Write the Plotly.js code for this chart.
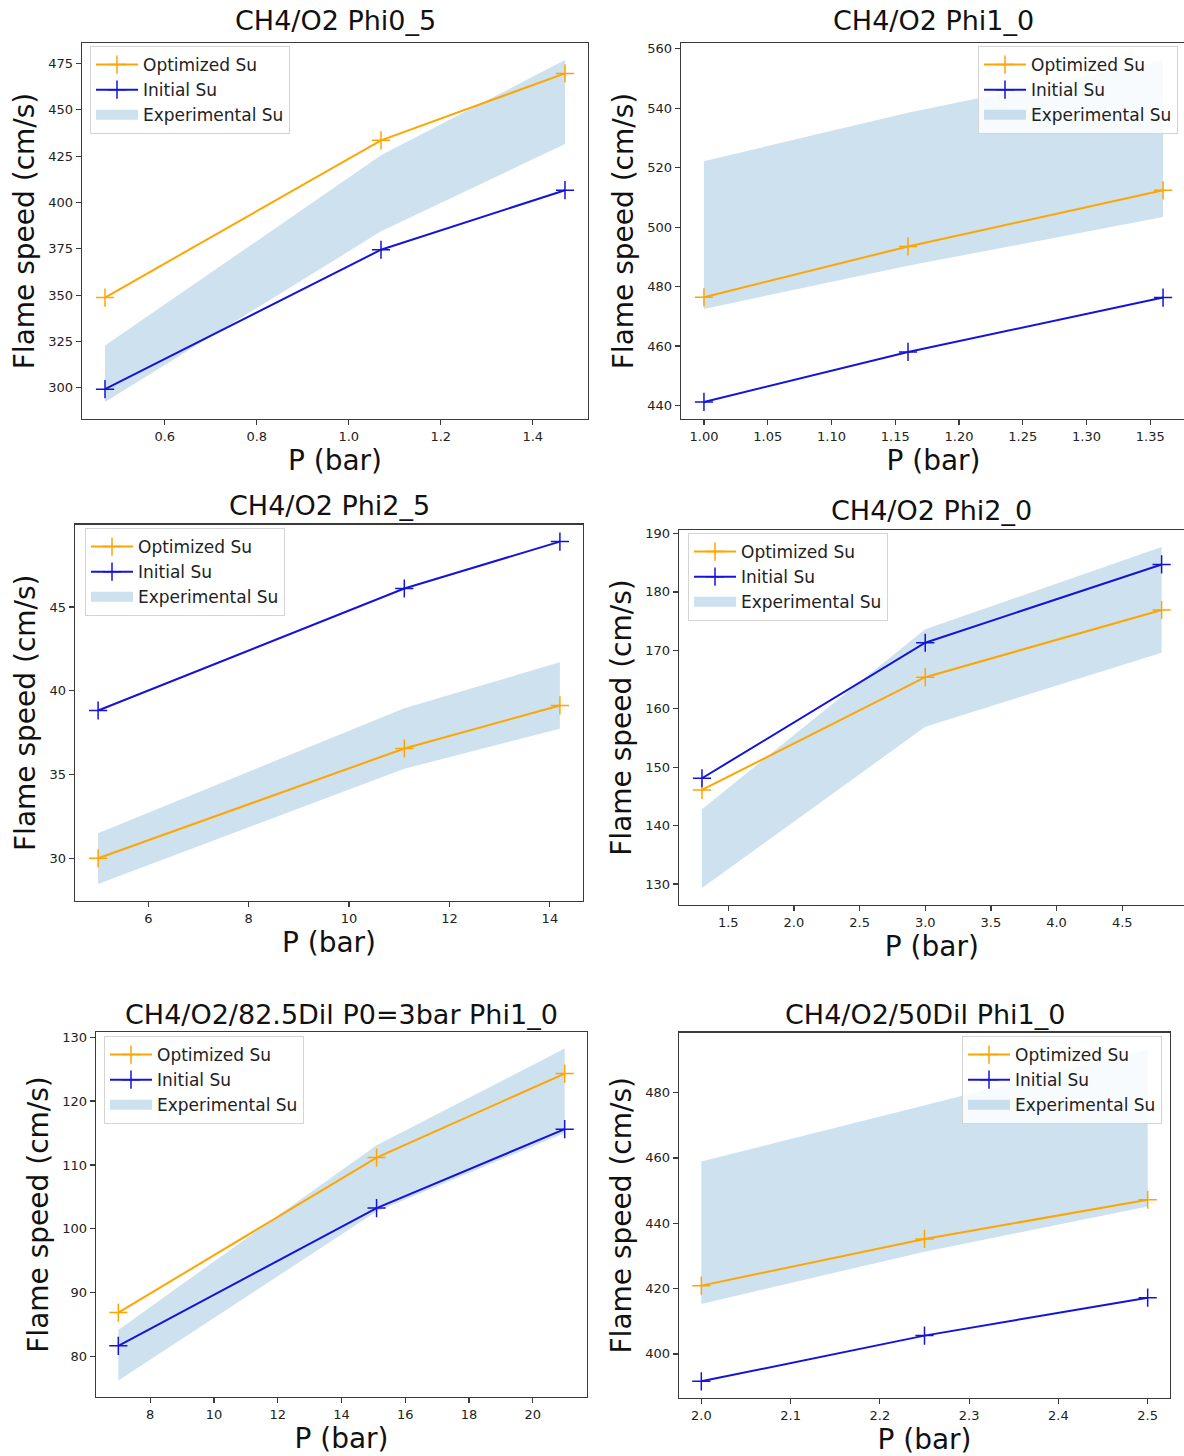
<!DOCTYPE html>
<html>
<head>
<meta charset="utf-8">
<script src="https://cdn.plot.ly/plotly-3.0.1.min.js"></script>
<style>
html, body { margin: 0; padding: 0; overflow: hidden; background: #ffffff; }
#chart { width: 1188px; height: 1456px; }
</style>
</head>
<body>
<div id="chart"></div>
<script>
// ---------------- data ----------------
const seriesNames = ["Optimized Su", "Initial Su", "Experimental Su"];
const panelTitles = [
  "CH4/O2 Phi0_5",
  "CH4/O2 Phi1_0",
  "CH4/O2 Phi2_5",
  "CH4/O2 Phi2_0",
  "CH4/O2/82.5Dil P0=3bar Phi1_0",
  "CH4/O2/50Dil Phi1_0"
];
const xLabel = "P (bar)";
const yLabel = "Flame speed (cm/s)";

// Panel 1: CH4/O2 Phi0_5
const pressure1 = [0.47, 1.07, 1.47];
const optimized1 = [348.7, 433.5, 469.6];
const initial1 = [299.3, 374.5, 406.6];
const expLow1 = [292.4, 384.4, 431.5];
const expHigh1 = [322.8, 425.4, 476.8];

// Panel 2: CH4/O2 Phi1_0
const pressure2 = [1.00, 1.16, 1.36];
const optimized2 = [476.4, 493.5, 512.4];
const initial2 = [441.2, 458.0, 476.3];
const expLow2 = [472.5, 487.0, 503.4];
const expHigh2 = [522.2, 538.5, 556.2];

// Panel 3: CH4/O2 Phi2_5
const pressure3 = [5.0, 11.1, 14.2];
const optimized3 = [30.0, 36.55, 39.12];
const initial3 = [38.82, 46.1, 48.9];
const expLow3 = [28.47, 35.34, 37.73];
const expHigh3 = [31.5, 38.96, 41.7];

// Panel 4: CH4/O2 Phi2_0
const pressure4 = [1.3, 3.0, 4.8];
const optimized4 = [146.1, 165.4, 176.9];
const initial4 = [148.1, 171.3, 184.7];
const expLow4 = [129.3, 156.9, 169.6];
const expHigh4 = [142.8, 173.6, 187.7];

// Panel 5: CH4/O2/82.5Dil P0=3bar Phi1_0
const pressure5 = [7.0, 15.1, 21.0];
const optimized5 = [86.9, 111.15, 124.3];
const initial5 = [81.7, 103.25, 115.6];
const expLow5 = [76.3, 102.7, 115.0];
const expHigh5 = [84.2, 113.1, 128.2];

// Panel 6: CH4/O2/50Dil Phi1_0
const pressure6 = [2.0, 2.25, 2.5];
const optimized6 = [420.9, 435.2, 447.2];
const initial6 = [391.6, 405.6, 417.2];
const expLow6 = [415.3, 431.3, 445.1];
const expHigh6 = [458.9, 476.0, 493.3];

const panelData = [
  { x: pressure1, opt: optimized1, init: initial1, lo: expLow1, hi: expHigh1 },
  { x: pressure2, opt: optimized2, init: initial2, lo: expLow2, hi: expHigh2 },
  { x: pressure3, opt: optimized3, init: initial3, lo: expLow3, hi: expHigh3 },
  { x: pressure4, opt: optimized4, init: initial4, lo: expLow4, hi: expHigh4 },
  { x: pressure5, opt: optimized5, init: initial5, lo: expLow5, hi: expHigh5 },
  { x: pressure6, opt: optimized6, init: initial6, lo: expLow6, hi: expHigh6 }
];

// ---------------- layout (pixel boxes, ranges, ticks) ----------------
const W = 1188, H = 1456;
const boxes = [
  { l: 82,  r: 588,    t: 43,    b: 419,  xr: [0.42, 1.52],   yr: [283.2, 486.0],  dx: 0.2,  dy: 25, xf: ".1f", leg: { px: 90,   py: 46,   side: "left"  }, ty: 21 },
  { l: 681, r: 1186,   t: 43,    b: 419,  xr: [0.982, 1.378], yr: [435.45, 561.95], dx: 0.05, dy: 20, xf: ".2f", leg: { px: 1178, py: 46,   side: "right" }, ty: 21 },
  { l: 75,  r: 583,    t: 524.5, b: 901,  xr: [4.54, 14.66],  yr: [27.45, 49.92],  dx: 2,    dy: 5,  xf: "d",   leg: { px: 85,   py: 528,  side: "left"  }, ty: 505 },
  { l: 679, r: 1184.6, t: 530,   b: 905,  xr: [1.125, 4.975], yr: [126.4, 190.6],  dx: 0.5,  dy: 10, xf: ".1f", leg: { px: 688,  py: 533,  side: "left"  }, ty: 511 },
  { l: 96,  r: 587,    t: 1032,  b: 1397, xr: [6.3, 21.7],    yr: [73.7, 130.8],   dx: 2,    dy: 10, xf: "d",   leg: { px: 104,  py: 1036, side: "left"  }, ty: 1014 },
  { l: 679, r: 1170,   t: 1032.5,b: 1398, xr: [1.975, 2.525], yr: [386.5, 498.4],  dx: 0.1,  dy: 20, xf: ".1f", leg: { px: 1162, py: 1036, side: "right" }, ty: 1014 }
];

const FONT = "DejaVu Sans, Liberation Sans, sans-serif";
const ORANGE = "#ffa500";
const BLUE = "#1414d8";
const BAND = "rgba(31,119,180,0.22)";
const SPINE = "#3a3a3a";

const traces = [];
const layout = {
  width: W, height: H,
  margin: { l: 0, r: 0, t: 0, b: 0, pad: 0 },
  paper_bgcolor: "#ffffff",
  plot_bgcolor: "#ffffff",
  font: { family: FONT, color: "#222222" },
  showlegend: true,
  annotations: []
};

panelData.forEach((d, i) => {
  const n = i === 0 ? "" : String(i + 1);
  const bx = boxes[i];
  const xa = "x" + n, ya = "y" + n;
  const legName = "legend" + n;

  // Experimental band as closed polygon (upper edge then lower edge reversed)
  traces.push({
    type: "scatter", mode: "lines",
    x: d.x.concat(d.x.slice().reverse()),
    y: d.hi.concat(d.lo.slice().reverse()),
    fill: "toself", fillcolor: BAND,
    line: { width: 0, color: BAND },
    name: seriesNames[2], legend: legName, showlegend: false,
    xaxis: xa, yaxis: ya, hoverinfo: "skip"
  });
  // legend swatch for the band (thick patch)
  traces.push({
    type: "scatter", mode: "lines",
    x: [null], y: [null],
    line: { width: 12, color: BAND },
    name: seriesNames[2], legend: legName, legendrank: 3,
    xaxis: xa, yaxis: ya, hoverinfo: "skip"
  });
  traces.push({
    type: "scatter", mode: "lines+markers",
    x: d.x, y: d.opt,
    line: { color: ORANGE, width: 2 },
    marker: { symbol: "cross-thin-open", size: 13, line: { color: ORANGE, width: 1.5 } },
    name: seriesNames[0], legend: legName, legendrank: 1,
    xaxis: xa, yaxis: ya
  });
  traces.push({
    type: "scatter", mode: "lines+markers",
    x: d.x, y: d.init,
    line: { color: BLUE, width: 2 },
    marker: { symbol: "cross-thin-open", size: 13, line: { color: BLUE, width: 1.5 } },
    name: seriesNames[1], legend: legName, legendrank: 2,
    xaxis: xa, yaxis: ya
  });

  const common = {
    showgrid: false, zeroline: false, showline: true, mirror: true,
    linecolor: SPINE, linewidth: 1.3,
    ticks: "outside", ticklen: 5, tickwidth: 1.2, tickcolor: SPINE,
    tickfont: { family: FONT, size: 13, color: "#222222" },
    automargin: false, tick0: 0
  };
  layout["xaxis" + n] = Object.assign({}, common, {
    domain: [bx.l / W, bx.r / W], range: bx.xr, anchor: ya,
    dtick: bx.dx, tickformat: bx.xf,
    title: { text: xLabel, font: { family: FONT, size: 28, color: "#111111" }, standoff: 5 }
  });
  layout["yaxis" + n] = Object.assign({}, common, {
    domain: [1 - bx.b / H, 1 - bx.t / H], range: bx.yr, anchor: xa,
    dtick: bx.dy,
    title: { text: yLabel, font: { family: FONT, size: 28, color: "#111111" }, standoff: 5 }
  });

  layout[legName] = {
    x: bx.leg.px / W, y: 1 - bx.leg.py / H,
    xref: "paper", yref: "paper",
    xanchor: bx.leg.side, yanchor: "top",
    bgcolor: "rgba(255,255,255,0.85)",
    bordercolor: "#d4d4d4", borderwidth: 1,
    font: { family: FONT, size: 17, color: "#222222" },
    traceorder: "normal",
    itemwidth: 42
  };

  layout.annotations.push({
    xref: "paper", yref: "paper",
    x: (bx.l + bx.r) / 2 / W, y: 1 - bx.ty / H,
    xanchor: "center", yanchor: "middle",
    text: panelTitles[i], showarrow: false,
    font: { family: FONT, size: 27, color: "#111111" }
  });
});

Plotly.newPlot("chart", traces, layout, { staticPlot: true, displayModeBar: false });
</script>
</body>
</html>
